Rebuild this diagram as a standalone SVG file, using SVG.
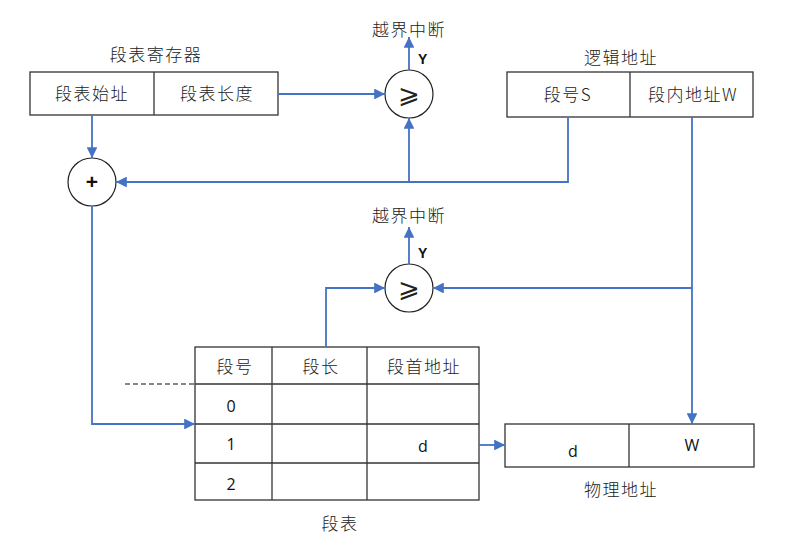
<svg xmlns="http://www.w3.org/2000/svg" width="801" height="553" viewBox="0 0 801 553">
<style>
.box{fill:#fff;stroke:#333;stroke-width:1.3}
.t{font-family:"Noto Sans CJK SC","Liberation Sans",sans-serif;font-size:17px;letter-spacing:1.5px;fill:#222;text-anchor:middle;font-weight:300}
.n{font-family:"Open Sans","Liberation Sans",sans-serif;font-size:16px;fill:#111;text-anchor:middle}
.c{fill:#fff;stroke:#222;stroke-width:1.2}
.g{font-family:"DejaVu Sans",sans-serif;font-size:26px;fill:#222;text-anchor:middle;font-weight:300}
.w{fill:none;stroke:#4472C4;stroke-width:1.8}
.y{font-family:"Liberation Sans",sans-serif;font-size:14px;font-weight:bold;fill:#111}
</style>
<defs>
<marker id="a" viewBox="0 0 10 10" refX="10" refY="5" markerWidth="6" markerHeight="6" orient="auto" markerUnits="strokeWidth">
<path d="M0,0 L10,5 L0,10 z" fill="#4472C4"/>
</marker>
</defs>
<rect width="801" height="553" fill="#fff"/>
<g id="register">
<text class="t" x="156" y="61">段表寄存器</text>
<rect class="box" x="30" y="72" width="248" height="43"/>
<line class="box" x1="154" y1="72" x2="154" y2="115"/>
<text class="t" x="92" y="100">段表始址</text>
<text class="t" x="217" y="100">段表长度</text>
</g>
<g id="logical">
<text class="t" x="621" y="64">逻辑地址</text>
<rect class="box" x="507" y="72" width="246" height="45"/>
<line class="box" x1="630" y1="72" x2="630" y2="117"/>
<text class="t" x="568" y="101">段号S</text>
<text class="t" x="693" y="101">段内地址W</text>
</g>
<g id="cmp1">
<circle class="c" cx="409" cy="94" r="24"/>
<text class="g" x="409" y="103">⩾</text>
<text class="y" x="418" y="64">Y</text>
<text class="t" x="409" y="36">越界中断</text>
</g>
<g id="adder">
<circle class="c" cx="92" cy="182" r="24"/>
<text x="92" y="189" font-family="Liberation Sans,sans-serif" font-size="21" font-weight="bold" text-anchor="middle" fill="#111">+</text>
</g>
<g id="cmp2">
<circle class="c" cx="409" cy="288" r="24"/>
<text class="g" x="409" y="297">⩾</text>
<text class="y" x="418" y="258">Y</text>
<text class="t" x="409" y="222">越界中断</text>
</g>
<g id="table">
<rect class="box" x="195" y="347" width="284" height="153"/>
<line class="box" x1="195" y1="384" x2="479" y2="384"/>
<line class="box" x1="195" y1="424" x2="479" y2="424"/>
<line class="box" x1="195" y1="463" x2="479" y2="463"/>
<line class="box" x1="272" y1="347" x2="272" y2="500"/>
<line class="box" x1="367" y1="347" x2="367" y2="500"/>
<line x1="125" y1="384" x2="195" y2="384" stroke="#111" stroke-width="1.2" stroke-dasharray="5,3"/>
<text class="t" x="235" y="373">段号</text>
<text class="t" x="321" y="373">段长</text>
<text class="t" x="424" y="373">段首地址</text>
<text class="n" x="231" y="412">0</text>
<text class="n" x="231" y="450">1</text>
<text class="n" x="231" y="490">2</text>
<text class="n" x="423" y="452">d</text>
<text class="t" x="340" y="530">段表</text>
</g>
<g id="physical">
<rect class="box" x="505" y="424" width="249" height="43"/>
<line class="box" x1="629" y1="424" x2="629" y2="467"/>
<text class="n" x="573" y="457">d</text>
<text class="n" x="692" y="451">W</text>
<text class="t" x="621" y="496">物理地址</text>
</g>
<g id="connectors">
<path class="w" d="M278,94 H385" marker-end="url(#a)"/>
<path class="w" d="M409,70 V37" marker-end="url(#a)"/>
<path class="w" d="M92,115 V158" marker-end="url(#a)"/>
<path class="w" d="M568,117 V182 H116" marker-end="url(#a)"/>
<path class="w" d="M409,182 V118" marker-end="url(#a)"/>
<path class="w" d="M92,206 V424 H195" marker-end="url(#a)"/>
<path class="w" d="M326,347 V288 H385" marker-end="url(#a)"/>
<path class="w" d="M409,264 V227" marker-end="url(#a)"/>
<path class="w" d="M692,117 V424" marker-end="url(#a)"/>
<path class="w" d="M692,288 H433" marker-end="url(#a)"/>
<path class="w" d="M479,445 H505" marker-end="url(#a)"/>
</g>
</svg>
